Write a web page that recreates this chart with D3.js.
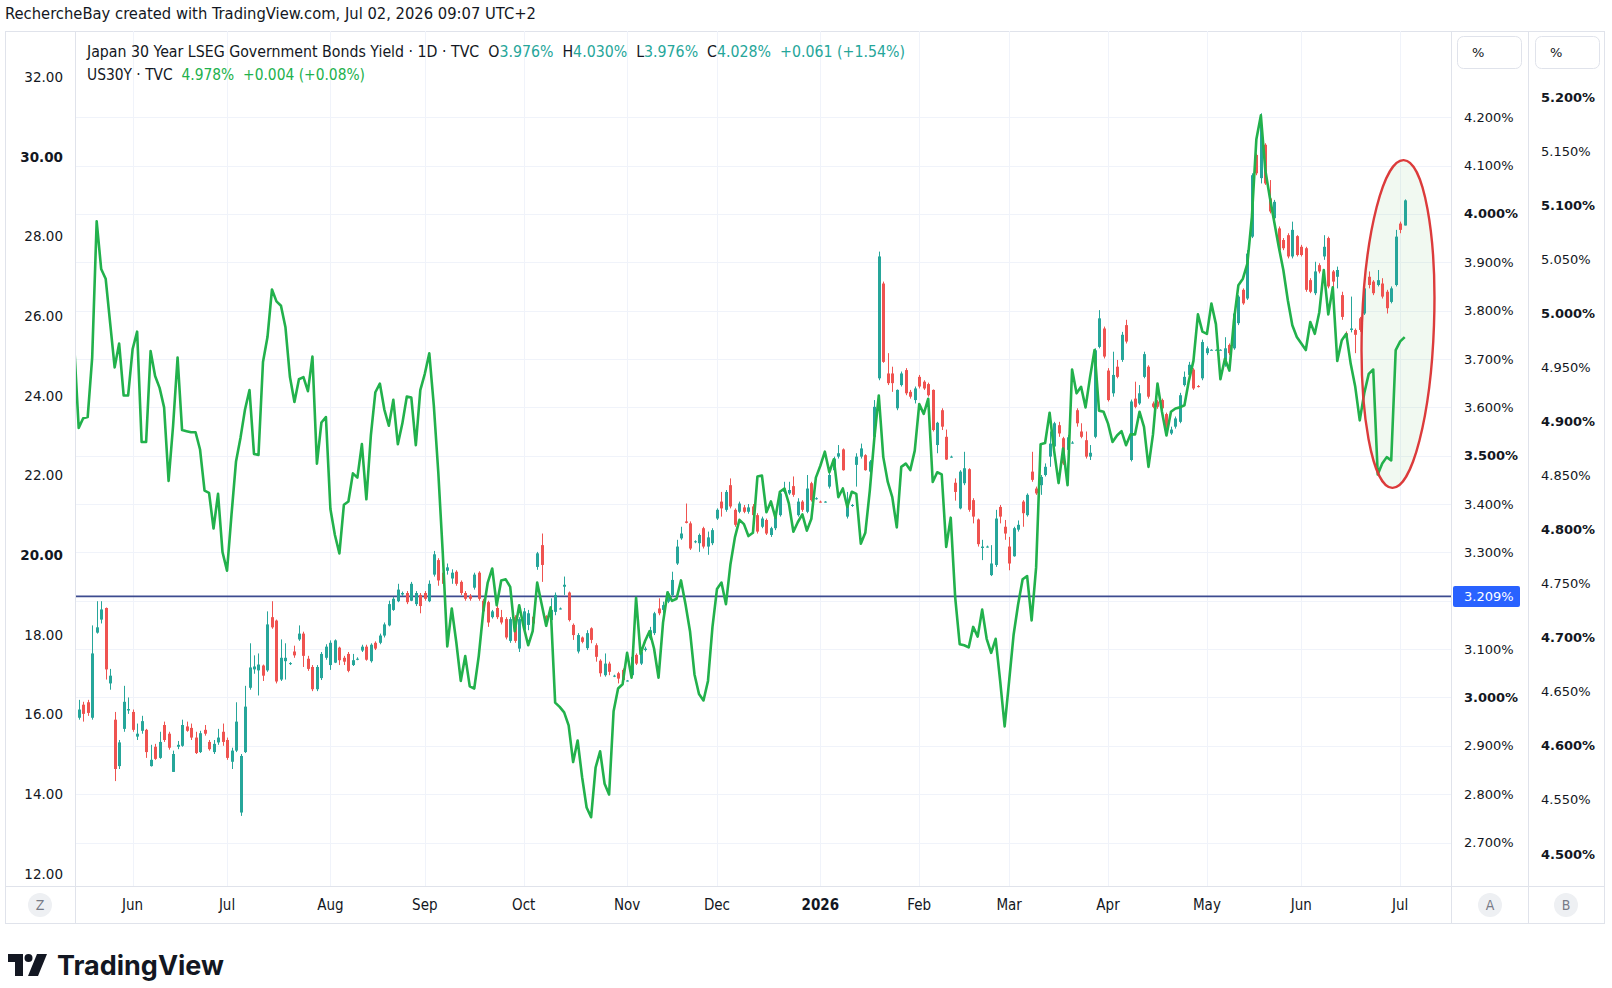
<!DOCTYPE html>
<html lang="en">
<head>
<meta charset="UTF-8">
<title>Japan 30Y vs US30Y</title>
<script src="https://d3js.org/d3.v7.min.js"></script>
<style>
  body { margin:0; background:#fff; overflow:hidden; }
  svg { display:block; }
  text { font-family: "DejaVu Sans", sans-serif; fill:#131722; }
  .cond { font-family: "Liberation Sans Narrow", "DejaVu Sans Condensed", Roboto, sans-serif; }
</style>
</head>
<body>
<script>
// ---- data ----
const firstDay = "2025-05-14";   // first weekday shown, one bar per weekday

// US30Y close (right scale B)
const us30y = [
  4.970,4.894,4.903,4.904,4.959,5.085,5.041,5.032,4.991,4.950,
  4.972,4.924,4.924,4.967,4.983,4.881,4.881,4.965,4.942,4.931,
  4.913,4.845,4.896,4.959,4.892,4.891,4.890,4.890,4.874,4.836,
  4.834,4.801,4.833,4.779,4.762,4.814,4.863,4.885,4.911,4.929,
  4.870,4.869,4.955,4.978,5.022,5.011,5.007,4.987,4.941,4.918,
  4.939,4.941,4.928,4.960,4.861,4.899,4.904,4.819,4.795,4.778,
  4.823,4.826,4.852,4.848,4.879,4.828,4.887,4.927,4.935,4.911,
  4.896,4.920,4.879,4.898,4.923,4.922,4.878,4.929,4.944,4.963,
  4.915,4.853,4.778,4.692,4.727,4.696,4.660,4.683,4.655,4.653,
  4.683,4.724,4.751,4.764,4.730,4.753,4.754,4.747,4.706,4.730,
  4.710,4.693,4.706,4.751,4.731,4.711,4.728,4.640,4.636,4.631,
  4.619,4.585,4.605,4.571,4.543,4.534,4.580,4.595,4.565,4.555,
  4.632,4.653,4.657,4.686,4.663,4.737,4.685,4.697,4.706,4.690,
  4.663,4.714,4.742,4.734,4.736,4.753,4.731,4.706,4.666,4.648,
  4.642,4.660,4.710,4.745,4.751,4.731,4.768,4.793,4.809,4.805,
  4.794,4.797,4.849,4.850,4.816,4.826,4.811,4.835,4.838,4.824,
  4.798,4.807,4.814,4.799,4.810,4.848,4.859,4.872,4.853,4.865,
  4.830,4.838,4.821,4.835,4.833,4.787,4.797,4.836,4.884,4.924,
  4.867,4.844,4.830,4.802,4.858,4.861,4.855,4.873,4.916,4.907,
  4.921,4.844,4.853,4.851,4.784,4.811,4.737,4.694,4.693,4.691,
  4.710,4.701,4.726,4.699,4.686,4.699,4.660,4.618,4.660,4.703,
  4.731,4.754,4.757,4.716,4.765,4.879,4.880,4.908,4.873,4.843,
  4.875,4.841,4.948,4.926,4.932,4.913,4.941,4.966,4.910,4.909,
  4.898,4.881,4.887,4.891,4.878,4.888,4.888,4.909,4.895,4.858,
  4.888,4.935,4.909,4.887,4.909,4.912,4.913,4.915,4.938,4.956,
  4.999,4.983,4.981,5.009,4.990,4.939,4.958,4.947,4.993,5.026,
  5.032,5.046,5.089,5.161,5.183,5.132,5.107,5.084,5.061,5.040,
  5.012,4.989,4.978,4.972,4.966,4.992,4.981,5.001,5.040,4.999,
  5.024,4.956,4.975,4.981,4.953,4.932,4.901,4.926,4.944,4.948,
  4.851,4.861,4.867,4.864,4.966,4.974,4.978
];

// Japan 30Y daily candles [open, high, low, close] (right scale A)
const jp30y = [
  null,
  [2.958,2.995,2.954,2.975],[2.985,2.991,2.950,2.966],[2.990,2.995,2.962,2.968],[2.958,3.149,2.954,3.091],[3.134,3.199,3.132,3.145],
  [3.161,3.199,3.153,3.182],[3.185,3.186,3.037,3.058],[3.029,3.059,3.016,3.045],[2.954,2.970,2.827,2.852],[2.858,2.912,2.852,2.907],
  [2.935,3.024,2.929,2.991],[2.973,3.000,2.966,2.976],[2.970,2.975,2.929,2.933],[2.919,2.946,2.912,2.925],[2.931,2.962,2.925,2.951],
  [2.933,2.935,2.875,2.887],[2.858,2.902,2.857,2.871],[2.898,2.904,2.871,2.873],[2.875,2.929,2.873,2.908],[2.943,2.950,2.908,2.912],
  [2.925,2.929,2.892,2.896],[2.846,2.890,2.846,2.883],[2.898,2.910,2.893,2.902],[2.900,2.954,2.898,2.943],[2.940,2.950,2.929,2.931],
  [2.937,2.946,2.912,2.917],[2.917,2.929,2.883,2.885],[2.887,2.931,2.885,2.926],[2.933,2.943,2.921,2.925],[2.908,2.912,2.890,2.893],
  [2.887,2.912,2.883,2.904],[2.907,2.935,2.902,2.917],[2.929,2.946,2.900,2.908],[2.912,2.917,2.871,2.875],[2.867,2.896,2.852,2.890],
  [2.890,2.990,2.887,2.950],[2.762,2.883,2.755,2.879],[2.887,3.024,2.885,2.981],[3.020,3.112,3.016,3.062],[3.058,3.087,3.049,3.064],
  [3.056,3.091,3.004,3.068],[3.066,3.068,3.034,3.045],[3.056,3.178,3.053,3.151],[3.166,3.199,3.142,3.145],[3.159,3.161,3.029,3.033],
  [3.037,3.120,3.034,3.082],[3.075,3.112,3.037,3.082],[3.069,3.073,3.067,3.071],[3.095,3.107,3.082,3.087],[3.120,3.149,3.117,3.132],
  [3.132,3.136,3.063,3.086],[3.080,3.086,3.055,3.059],[3.063,3.067,3.013,3.017],[3.017,3.067,3.013,3.063],[3.040,3.094,3.036,3.090],
  [3.082,3.110,3.078,3.105],[3.067,3.118,3.057,3.113],[3.072,3.120,3.071,3.118],[3.103,3.105,3.067,3.077],[3.082,3.086,3.067,3.074],
  [3.090,3.094,3.052,3.055],[3.067,3.090,3.065,3.077],[3.079,3.083,3.077,3.080],[3.097,3.109,3.094,3.105],[3.105,3.109,3.076,3.078],
  [3.075,3.112,3.072,3.109],[3.113,3.116,3.098,3.101],[3.113,3.132,3.110,3.128],[3.128,3.155,3.124,3.151],[3.149,3.200,3.147,3.193],
  [3.181,3.208,3.179,3.204],[3.199,3.235,3.197,3.223],[3.213,3.219,3.210,3.216],[3.216,3.220,3.193,3.197],[3.200,3.239,3.199,3.235],
  [3.193,3.220,3.189,3.216],[3.212,3.216,3.174,3.189],[3.216,3.220,3.200,3.204],[3.199,3.242,3.197,3.235],[3.254,3.303,3.250,3.296],
  [3.284,3.288,3.231,3.242],[3.258,3.262,3.231,3.235],[3.262,3.277,3.254,3.269],[3.246,3.265,3.235,3.258],[3.260,3.263,3.231,3.235],
  [3.239,3.242,3.212,3.216],[3.216,3.220,3.200,3.204],[3.210,3.214,3.200,3.204],[3.227,3.258,3.223,3.254],[3.258,3.261,3.200,3.204],
  [3.200,3.204,3.174,3.178],[3.197,3.200,3.146,3.155],[3.166,3.181,3.163,3.178],[3.185,3.189,3.162,3.166],[3.166,3.181,3.151,3.155],
  [3.162,3.166,3.120,3.124],[3.117,3.166,3.113,3.162],[3.166,3.170,3.113,3.117],[3.101,3.166,3.094,3.162],[3.140,3.185,3.135,3.178],
  [3.150,3.181,3.139,3.174],[3.167,3.170,3.150,3.153],[3.270,3.301,3.264,3.298],[3.315,3.339,3.239,3.274],[3.168,3.170,3.148,3.152],
  [3.160,3.205,3.157,3.181],[3.177,3.217,3.170,3.212],[3.184,3.186,3.182,3.184],[3.229,3.250,3.212,3.233],[3.217,3.219,3.157,3.160],
  [3.150,3.153,3.119,3.129],[3.095,3.133,3.091,3.129],[3.124,3.126,3.112,3.115],[3.102,3.139,3.098,3.133],[3.143,3.145,3.112,3.119],
  [3.108,3.112,3.074,3.084],[3.076,3.079,3.043,3.050],[3.046,3.091,3.043,3.070],[3.070,3.074,3.046,3.053],[3.044,3.047,3.042,3.045],
  [3.050,3.053,3.029,3.039],[3.057,3.060,3.029,3.036],[3.034,3.036,3.033,3.035],[3.046,3.088,3.043,3.084],[3.088,3.091,3.067,3.070],
  [3.070,3.099,3.067,3.095],[3.098,3.105,3.095,3.101],[3.122,3.146,3.119,3.139],[3.133,3.177,3.129,3.174],[3.184,3.205,3.170,3.174],
  [3.181,3.198,3.174,3.191],[3.198,3.219,3.195,3.215],[3.212,3.260,3.208,3.243],[3.277,3.326,3.274,3.312],[3.329,3.353,3.326,3.339],
  [3.364,3.401,3.360,3.361],[3.360,3.364,3.305,3.308],[3.321,3.325,3.319,3.323],[3.319,3.339,3.301,3.336],[3.350,3.353,3.308,3.312],
  [3.312,3.343,3.295,3.331],[3.319,3.350,3.315,3.346],[3.370,3.391,3.367,3.388],[3.405,3.425,3.374,3.391],[3.388,3.429,3.384,3.425],
  [3.439,3.453,3.391,3.395],[3.388,3.391,3.353,3.357],[3.384,3.405,3.381,3.401],[3.393,3.398,3.381,3.384],[3.384,3.400,3.380,3.393],
  [3.395,3.400,3.374,3.377],[3.377,3.381,3.339,3.343],[3.353,3.374,3.350,3.370],[3.367,3.370,3.336,3.339],[3.336,3.353,3.332,3.350],
  [3.350,3.381,3.346,3.377],[3.377,3.425,3.374,3.422],[3.425,3.446,3.422,3.432],[3.422,3.446,3.419,3.429],[3.437,3.457,3.415,3.419],
  [3.377,3.412,3.374,3.405],[3.405,3.408,3.384,3.388],[3.384,3.460,3.381,3.432],[3.443,3.446,3.405,3.408],[3.411,3.414,3.409,3.412],
  [3.405,3.407,3.403,3.404],[3.404,3.406,3.403,3.405],[3.436,3.470,3.432,3.460],[3.470,3.498,3.467,3.494],[3.498,3.522,3.494,3.505],
  [3.513,3.515,3.469,3.470],[3.374,3.425,3.370,3.401],[3.396,3.400,3.394,3.398],[3.481,3.505,3.436,3.498],[3.498,3.525,3.494,3.515],
  [3.501,3.503,3.469,3.470],[3.467,3.491,3.463,3.488],[3.539,3.615,3.536,3.601],[3.660,3.922,3.656,3.912],[3.856,3.860,3.692,3.694],
  [3.670,3.712,3.646,3.650],[3.670,3.684,3.632,3.650],[3.598,3.637,3.594,3.636],[3.646,3.674,3.643,3.670],[3.677,3.681,3.625,3.629],
  [3.632,3.636,3.618,3.622],[3.615,3.643,3.608,3.639],[3.663,3.667,3.639,3.643],[3.653,3.656,3.636,3.639],[3.648,3.651,3.622,3.625],
  [3.636,3.637,3.550,3.553],[3.522,3.570,3.505,3.568],[3.594,3.598,3.553,3.560],[3.539,3.554,3.491,3.492],[3.497,3.500,3.496,3.498],
  [3.444,3.453,3.407,3.425],[3.391,3.470,3.389,3.467],[3.443,3.508,3.439,3.474],[3.472,3.474,3.384,3.388],[3.408,3.412,3.360,3.374],
  [3.368,3.370,3.312,3.317],[3.309,3.326,3.284,3.312],[3.312,3.314,3.310,3.312],[3.253,3.315,3.251,3.277],[3.274,3.388,3.270,3.370],
  [3.394,3.398,3.360,3.374],[3.353,3.367,3.326,3.339],[3.312,3.332,3.263,3.277],[3.292,3.353,3.291,3.350],[3.347,3.366,3.343,3.357],
  [3.405,3.408,3.353,3.381],[3.377,3.422,3.374,3.419],[3.467,3.508,3.446,3.450],[3.432,3.436,3.419,3.422],[3.439,3.460,3.419,3.456],
  [3.460,3.484,3.457,3.477],[3.498,3.550,3.477,3.525],[3.519,3.570,3.515,3.567],[3.563,3.570,3.539,3.546],[3.536,3.539,3.481,3.484],
  [3.512,3.543,3.508,3.538],[3.527,3.530,3.525,3.527],[3.594,3.598,3.560,3.567],[3.550,3.567,3.536,3.539],[3.532,3.550,3.494,3.498],
  [3.498,3.522,3.491,3.506],[3.539,3.722,3.536,3.718],[3.725,3.801,3.722,3.784],[3.763,3.767,3.701,3.705],[3.676,3.681,3.612,3.615],
  [3.629,3.715,3.622,3.667],[3.684,3.698,3.660,3.663],[3.698,3.756,3.694,3.750],[3.770,3.781,3.732,3.736],[3.491,3.616,3.488,3.612],
  [3.618,3.653,3.598,3.601],[3.608,3.646,3.605,3.629],[3.663,3.715,3.660,3.710],[3.684,3.687,3.618,3.622],[3.608,3.612,3.598,3.601],
  [3.612,3.615,3.597,3.601],[3.615,3.618,3.594,3.598],[3.586,3.589,3.556,3.560],[3.546,3.560,3.543,3.554],[3.560,3.581,3.556,3.577],
  [3.570,3.630,3.567,3.625],[3.646,3.674,3.643,3.663],[3.667,3.694,3.663,3.688],[3.678,3.681,3.636,3.639],[3.644,3.646,3.641,3.643],
  [3.660,3.740,3.656,3.735],[3.712,3.726,3.708,3.722],[3.719,3.720,3.718,3.719],[3.719,3.720,3.718,3.719],[3.719,3.720,3.718,3.719],
  [3.691,3.745,3.684,3.722],[3.729,3.732,3.708,3.712],[3.722,3.798,3.719,3.794],[3.774,3.832,3.770,3.829],[3.843,3.846,3.812,3.815],
  [3.825,3.925,3.822,3.918],[3.953,4.084,3.950,4.080],[4.122,4.125,4.080,4.084],[4.074,4.208,4.063,4.184],[4.143,4.146,4.060,4.063],
  [4.032,4.070,4.001,4.005],[3.991,4.029,3.987,4.025],[3.970,3.974,3.922,3.925],[3.946,3.950,3.925,3.929],[3.956,3.960,3.908,3.912],
  [3.912,3.984,3.908,3.967],[3.954,3.956,3.912,3.915],[3.932,3.936,3.912,3.915],[3.929,3.932,3.839,3.843],[3.863,3.867,3.836,3.839],
  [3.836,3.901,3.832,3.881],[3.894,3.898,3.877,3.881],[3.912,3.956,3.905,3.932],[3.950,3.953,3.846,3.850],[3.881,3.884,3.836,3.860],
  [3.870,3.891,3.846,3.884],[3.832,3.839,3.781,3.787],[3.753,3.757,3.740,3.745],[3.760,3.829,3.755,3.763],[3.760,3.763,3.712,3.750],
  [3.784,3.787,3.756,3.760],[3.794,3.850,3.791,3.846],[3.870,3.881,3.846,3.853],[3.860,3.863,3.832,3.836],[3.853,3.884,3.850,3.863],
  [3.856,3.867,3.825,3.829],[3.839,3.843,3.794,3.805],[3.818,3.850,3.815,3.846],[3.853,3.967,3.850,3.953],[3.980,3.984,3.960,3.967],
  [3.976,4.030,3.976,4.028]
];

const leftTicks = [12, 14, 16, 18, 20, 22, 24, 26, 28, 30, 32];
const leftBold  = [20, 30];
const aTicks = [2.7, 2.8, 2.9, 3.0, 3.1, 3.2, 3.3, 3.4, 3.5, 3.6, 3.7, 3.8, 3.9, 4.0, 4.1, 4.2];
const aSkip  = [3.2];                 // hidden behind the price label
const aBold  = [3.0, 3.5, 4.0];
const bTicks = [4.5, 4.55, 4.6, 4.65, 4.7, 4.75, 4.8, 4.85, 4.9, 4.95, 5.0, 5.05, 5.1, 5.15, 5.2];
const hLine = 3.209;                  // horizontal line drawn on the chart

const W = 1612, H = 988;
const plot = { left: 75, right: 1451, top: 31, bottom: 886 };
const upCol = "#26a69a", downCol = "#ef5350", usCol = "#22b14c";

// trading days (weekdays) starting at firstDay
const days = [];
for (let d = d3.timeParse("%Y-%m-%d")(firstDay); days.length < us30y.length; d = d3.timeDay.offset(d, 1)) {
  if (d.getDay() !== 0 && d.getDay() !== 6) days.push(d);
}

const svg = d3.select("body").append("svg").attr("width", W).attr("height", H);

// scales
const x = d3.scalePoint().domain(d3.range(days.length)).range([74.2, 1404.7]);
const yA = d3.scaleLinear().domain([2.7, 4.2]).range([842.5, 117.2]);
const yB = d3.scaleLinear().domain([4.5, 5.2]).range([854, 97]);
const yZ = d3.scaleLinear().domain([12, 32]).range([873.9, 77.1]);

// frame
svg.append("rect").attr("x", 5.5).attr("y", 31.5).attr("width", 1599).attr("height", 892)
  .attr("fill", "none").attr("stroke", "#e0e3eb");

// month ticks
const monthIdx = d3.range(1, days.length).filter(i => days[i].getMonth() !== days[i - 1].getMonth());

const grid = svg.append("g");
grid.selectAll("line.v").data(monthIdx).join("line")
  .attr("x1", i => Math.round(x(i)) + 0.5).attr("x2", i => Math.round(x(i)) + 0.5)
  .attr("y1", plot.top).attr("y2", plot.bottom).attr("stroke", "#f0f3fa");
grid.selectAll("line.h").data(aTicks).join("line")
  .attr("x1", plot.left).attr("x2", plot.right)
  .attr("y1", d => Math.round(yA(d)) + 0.5).attr("y2", d => Math.round(yA(d)) + 0.5)
  .attr("stroke", "#f0f3fa");

// separators
const sep = svg.append("g").attr("stroke", "#e0e3eb");
[75.5, 1451.5, 1528.5].forEach(v => sep.append("line").attr("x1", v).attr("x2", v).attr("y1", 31).attr("y2", 923));
sep.append("line").attr("x1", 5).attr("x2", 1604).attr("y1", 886.5).attr("y2", 886.5);

// clip
svg.append("clipPath").attr("id", "clip").append("rect")
  .attr("x", plot.left + 1).attr("y", plot.top + 1)
  .attr("width", plot.right - plot.left - 1).attr("height", plot.bottom - plot.top - 1);
const pg = svg.append("g").attr("clip-path", "url(#clip)");

// circled area
pg.append("ellipse").attr("cx", 1398).attr("cy", 324).attr("rx", 36).attr("ry", 164)
  .attr("transform", "rotate(2,1398,324)")
  .attr("fill", "rgba(76,175,80,0.08)");

// horizontal line
pg.append("line").attr("x1", plot.left).attr("x2", plot.right)
  .attr("y1", yA(hLine)).attr("y2", yA(hLine))
  .attr("stroke", "#3d4b8f").attr("stroke-width", 1.6);

// candles
const cData = jp30y.map((c, i) => c ? { i, o: c[0], h: c[1], l: c[2], c: c[3] } : null).filter(Boolean);
const cg = pg.append("g");
cg.selectAll("line").data(cData).join("line")
  .attr("x1", d => Math.round(x(d.i)) + 0.5).attr("x2", d => Math.round(x(d.i)) + 0.5)
  .attr("y1", d => yA(d.h)).attr("y2", d => yA(d.l))
  .attr("stroke", d => d.c >= d.o ? upCol : downCol).attr("stroke-width", 1);
cg.selectAll("rect").data(cData).join("rect")
  .attr("x", d => Math.round(x(d.i)) - 1).attr("width", 3)
  .attr("y", d => yA(Math.max(d.o, d.c)))
  .attr("height", d => Math.max(1, Math.abs(yA(d.o) - yA(d.c))))
  .attr("fill", d => d.c >= d.o ? upCol : downCol);

// US30Y line
pg.append("path").datum(us30y)
  .attr("d", d3.line().x((d, i) => x(i)).y(d => yB(d)))
  .attr("fill", "none").attr("stroke", usCol).attr("stroke-width", 2.6)
  .attr("stroke-linejoin", "round");

// red ellipse outline
pg.append("ellipse").attr("cx", 1398).attr("cy", 324).attr("rx", 36).attr("ry", 164)
  .attr("transform", "rotate(2,1398,324)")
  .attr("fill", "none").attr("stroke", "#dc3b3b").attr("stroke-width", 2.4);

// left axis (Z)
svg.append("g").selectAll("text").data(leftTicks).join("text")
  .attr("x", 63).attr("y", d => yZ(d)).attr("dy", "0.35em")
  .attr("text-anchor", "end").attr("font-size", 13.5)
  .attr("font-weight", d => leftBold.includes(d) ? "bold" : null)
  .text(d => d3.format(".2f")(d));

// right axis A
svg.append("g").selectAll("text").data(aTicks.filter(v => !aSkip.includes(v))).join("text")
  .attr("x", 1464).attr("y", d => yA(d)).attr("dy", "0.35em").attr("font-size", 13)
  .attr("font-weight", d => aBold.some(v => Math.abs(v - d) < 1e-9) ? "bold" : null)
  .text(d => d3.format(".3f")(d) + "%");

// right axis B
svg.append("g").selectAll("text").data(bTicks).join("text")
  .attr("x", 1541).attr("y", d => yB(d)).attr("dy", "0.35em").attr("font-size", 13)
  .attr("font-weight", d => Math.abs(d * 10 - Math.round(d * 10)) < 1e-9 ? "bold" : null)
  .text(d => d3.format(".3f")(d) + "%");

// price label for the horizontal line
svg.append("rect").attr("x", 1453).attr("y", yA(hLine) - 10.5).attr("width", 67).attr("height", 21)
  .attr("rx", 2).attr("fill", "#2962ff");
svg.append("text").attr("x", 1464).attr("y", yA(hLine)).attr("dy", "0.35em")
  .attr("font-size", 13).style("fill", "#fff").text(d3.format(".3f")(hLine) + "%");

// % buttons
[[1457, 1472], [1535, 1550]].forEach(([bx, tx]) => {
  svg.append("rect").attr("x", bx + 0.5).attr("y", 36.5).attr("width", 64).attr("height", 32)
    .attr("rx", 6).attr("fill", "#fff").attr("stroke", "#e0e3eb");
  svg.append("text").attr("x", tx).attr("y", 52).attr("dy", "0.35em").attr("font-size", 13)
    .style("fill", "#131722").text("%");
});

// time axis
const fmtMonth = d3.timeFormat("%b");
svg.append("g").selectAll("text").data(monthIdx).join("text")
  .attr("class", "cond")
  .attr("x", i => x(i)).attr("y", 905).attr("dy", "0.35em")
  .attr("text-anchor", "middle").attr("font-size", 15)
  .attr("font-weight", i => days[i].getMonth() === 0 ? "bold" : null)
  .text(i => days[i].getMonth() === 0 ? days[i].getFullYear() : fmtMonth(days[i]));

// scale buttons Z / A / B
[[40, "Z"], [1490, "A"], [1566, "B"]].forEach(([cx, t]) => {
  svg.append("circle").attr("cx", cx).attr("cy", 905).attr("r", 12).attr("fill", "#eef0f3");
  svg.append("text").attr("class", "cond").attr("x", cx).attr("y", 905).attr("dy", "0.35em")
    .attr("text-anchor", "middle").attr("font-size", 14).style("fill", "#787b86").text(t);
});

// header texts
svg.append("text").attr("class", "cond").attr("x", 5).attr("y", 19).attr("font-size", 16)
  .attr("textLength", 531).attr("lengthAdjust", "spacingAndGlyphs")
  .text("RechercheBay created with TradingView.com, Jul 02, 2026 09:07 UTC+2");

const last = jp30y[jp30y.length - 1], prev = jp30y[jp30y.length - 2];
const chg = last[3] - prev[3];
const usChg = us30y[us30y.length - 1] - us30y[us30y.length - 2];
const f3 = d3.format(".3f"), fs3 = d3.format("+.3f"), fp = d3.format("+.2f");

const leg1 = [
  ["Japan 30 Year LSEG Government Bonds Yield · 1D · TVC  ", null],
  ["O", null], [f3(last[0]) + "%", upCol],
  ["  H", null], [f3(last[1]) + "%", upCol],
  ["  L", null], [f3(last[2]) + "%", upCol],
  ["  C", null], [f3(last[3]) + "%", upCol],
  ["  " + fs3(chg) + " (" + fp(chg / prev[3] * 100) + "%)", upCol]
];
const leg2 = [
  ["US30Y · TVC  ", null],
  [f3(us30y[us30y.length - 1]) + "%  " + fs3(usChg) + " (" + fp(usChg / us30y[us30y.length - 2] * 100) + "%)", usCol]
];
function legend(parts, y, len) {
  const t = svg.append("text").attr("class", "cond").attr("x", 87).attr("y", y)
    .attr("font-size", 15).style("white-space", "pre")
    .attr("textLength", len).attr("lengthAdjust", "spacingAndGlyphs");
  parts.forEach(([s, c]) => t.append("tspan").style("fill", c || "#131722").text(s));
}
legend(leg1, 57, 818);
legend(leg2, 80, 278);

// TradingView logo
const logo = svg.append("g").attr("fill", "#131722");
logo.append("path").attr("d", "M8,954 H23 V976 H15 V962 H8 Z");
logo.append("circle").attr("cx", 28.5).attr("cy", 958).attr("r", 4);
logo.append("path").attr("d", "M37,954 H47 L38,976 H28 Z");
svg.append("text").attr("x", 57).attr("y", 975).attr("font-size", 27).attr("font-weight", "bold")
  .attr("textLength", 167).attr("lengthAdjust", "spacingAndGlyphs")
  .style("font-family", "Inter, Roboto, sans-serif").text("TradingView");
</script>
</body>
</html>
